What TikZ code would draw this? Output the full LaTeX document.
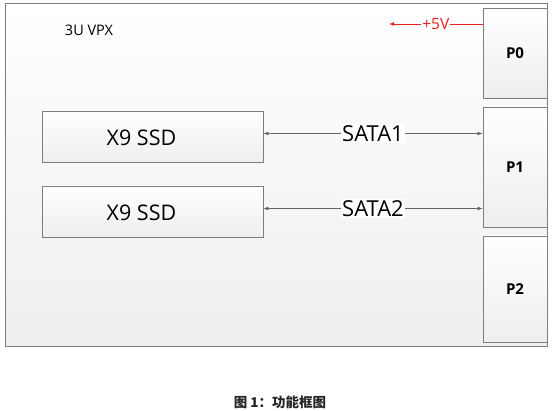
\documentclass[tikz,border=0pt]{standalone}
\usepackage{fontspec}
\setmainfont{Open Sans}
\newfontfamily\cjk{Noto Sans CJK SC}
\usepackage{tikz}
\usetikzlibrary{positioning}
\usetikzlibrary{arrows}
\usetikzlibrary{math}

\definecolor{edge}{RGB}{125,125,125}
\definecolor{boxbot}{RGB}{238,238,238}
\definecolor{pwr}{RGB}{240,30,30}

\tikzset{
  panel/.style={draw=edge, line width=0.8pt, top color=white, bottom color=boxbot},
  ssdbox/.style={panel, minimum width=221pt, minimum height=51pt},
  ssdtext/.style={font=\fontsize{21.5}{25}\selectfont},
  conbox/.style={panel, minimum width=64pt, font=\fontsize{15}{18}\selectfont\bfseries},
  link/.style={draw=edge!80!black, line width=0.7pt, latex-latex},
  linklabel/.style={fill=white, inner sep=1pt, font=\fontsize{22}{26}\selectfont}
}

\begin{document}
\begin{tikzpicture}[x=1pt,y=-1pt]
      \tikzmath{
        \pl = 483;
        \pr = 547;
        \sl = 42;
        \sr = 263;
      }

      \useasboundingbox (0,0) rectangle (554,411);

      % board outline
      \draw[panel] (5,3) rectangle (\pr,346);
      \node[font=\fontsize{14.5}{17}\selectfont] (title) at (89,30) {3U VPX};

      % connectors on the right edge
      \node[conbox, minimum height=90pt] (pZero) at ({(\pl+\pr)/2}, 53) {P0};
      \node[conbox, minimum height=120pt] (pOne) at ({(\pl+\pr)/2}, 167) {P1};
      \node[conbox, minimum height=106pt] (pTwo) at ({(\pl+\pr)/2}, 289) {P2};

      % the two drives
      \node[ssdbox] (ssdA) at ({(\sl+\sr)/2}, 136.5) {};
      \node[ssdtext] (ssdAtext) at ([xshift=-11pt, yshift=-1pt]ssdA.center) {X9 SSD};
      \node[ssdbox] (ssdB) at ({(\sl+\sr)/2}, 211.5) {};
      \node[ssdtext] (ssdBtext) at ([xshift=-11pt, yshift=-1pt]ssdB.center) {X9 SSD};

      \draw[link] ([yshift=3pt]ssdA.east) -- ([yshift=3pt]ssdA.east -| pOne.west)
        node[midway, linklabel] (sataA) {SATA1};
      \draw[link] ([yshift=3pt]ssdB.east) -- ([yshift=3pt]ssdB.east -| pOne.west)
        node[midway, linklabel] (sataB) {SATA2};

      % power input
      \coordinate (pwrEnd) at (389, 24);
      \draw[pwr, line width=0.8pt, -latex] (pwrEnd -| pZero.west) -- (pwrEnd)
        node[midway, fill=white, inner sep=1pt, text=pwr, font=\fontsize{15.5}{18}\selectfont] (fiveV) {+5V};

      \node[font=\cjk\fontsize{13.5}{16}\selectfont\bfseries, text=black!85] (caption) at (280,402) {图 1：功能框图};
    \end{tikzpicture}
\end{document}
